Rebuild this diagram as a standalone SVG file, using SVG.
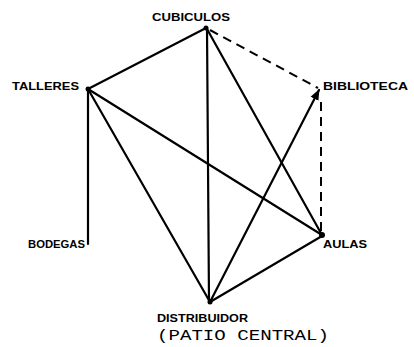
<svg xmlns="http://www.w3.org/2000/svg" width="414" height="347" viewBox="0 0 414 347">
<style>
.lbl{font-family:"Liberation Sans",Arial,sans-serif;font-weight:bold;font-size:11px;fill:#000}
.mono{font-family:"Liberation Mono","Courier New",monospace;font-size:15px;fill:#000}
.e{stroke:#000;stroke-width:2.2;fill:none;stroke-linecap:round}
.d{stroke:#000;stroke-width:2;fill:none;stroke-dasharray:9,6}
</style>
<defs>
<marker id="ah" viewBox="0 0 10 10" refX="9" refY="5" markerWidth="5" markerHeight="5" orient="auto-start-reverse">
<path d="M0,1 L10,5 L0,9 z" fill="#000"/>
</marker>
</defs>
<rect width="414" height="347" fill="#fff"/>
<g id="connectors">
<line class="e" x1="88" y1="89" x2="206" y2="28"/>
<line class="d" x1="210" y1="30" x2="318" y2="88"/>
<line class="e" x1="207" y1="28" x2="209" y2="302"/>
<line class="e" x1="207" y1="29" x2="322" y2="235"/>
<line class="e" x1="88" y1="89" x2="88" y2="244"/>
<line class="e" x1="88" y1="89" x2="322" y2="235"/>
<line class="e" x1="88" y1="89" x2="210" y2="302"/>
<line class="e" x1="210" y1="302" x2="319" y2="90" marker-end="url(#ah)"/>
<line class="d" x1="321" y1="102" x2="321" y2="232"/>
<line class="e" x1="210" y1="302" x2="322" y2="236"/>
<circle cx="206" cy="28" r="2.5"/>
<circle cx="88" cy="89" r="2.5"/>
<circle cx="322" cy="235" r="3"/>
<circle cx="210" cy="302" r="2.5"/>
</g>
<g id="cubiculos"><text class="lbl" x="152" y="21" textLength="78" lengthAdjust="spacingAndGlyphs">CUBICULOS</text></g>
<g id="talleres"><text class="lbl" x="12" y="90" textLength="67" lengthAdjust="spacingAndGlyphs">TALLERES</text></g>
<g id="biblioteca"><text class="lbl" x="323" y="90" textLength="85" lengthAdjust="spacingAndGlyphs">BIBLIOTECA</text></g>
<g id="bodegas"><text class="lbl" x="28" y="248" textLength="57" lengthAdjust="spacingAndGlyphs">BODEGAS</text></g>
<g id="aulas"><text class="lbl" x="323" y="248" textLength="44" lengthAdjust="spacingAndGlyphs">AULAS</text></g>
<g id="distribuidor">
<text class="lbl" x="157" y="322" textLength="91" lengthAdjust="spacingAndGlyphs">DISTRIBUIDOR</text>
<text class="mono" x="157" y="340" textLength="172" lengthAdjust="spacingAndGlyphs">(PATIO CENTRAL)</text>
</g>
</svg>
